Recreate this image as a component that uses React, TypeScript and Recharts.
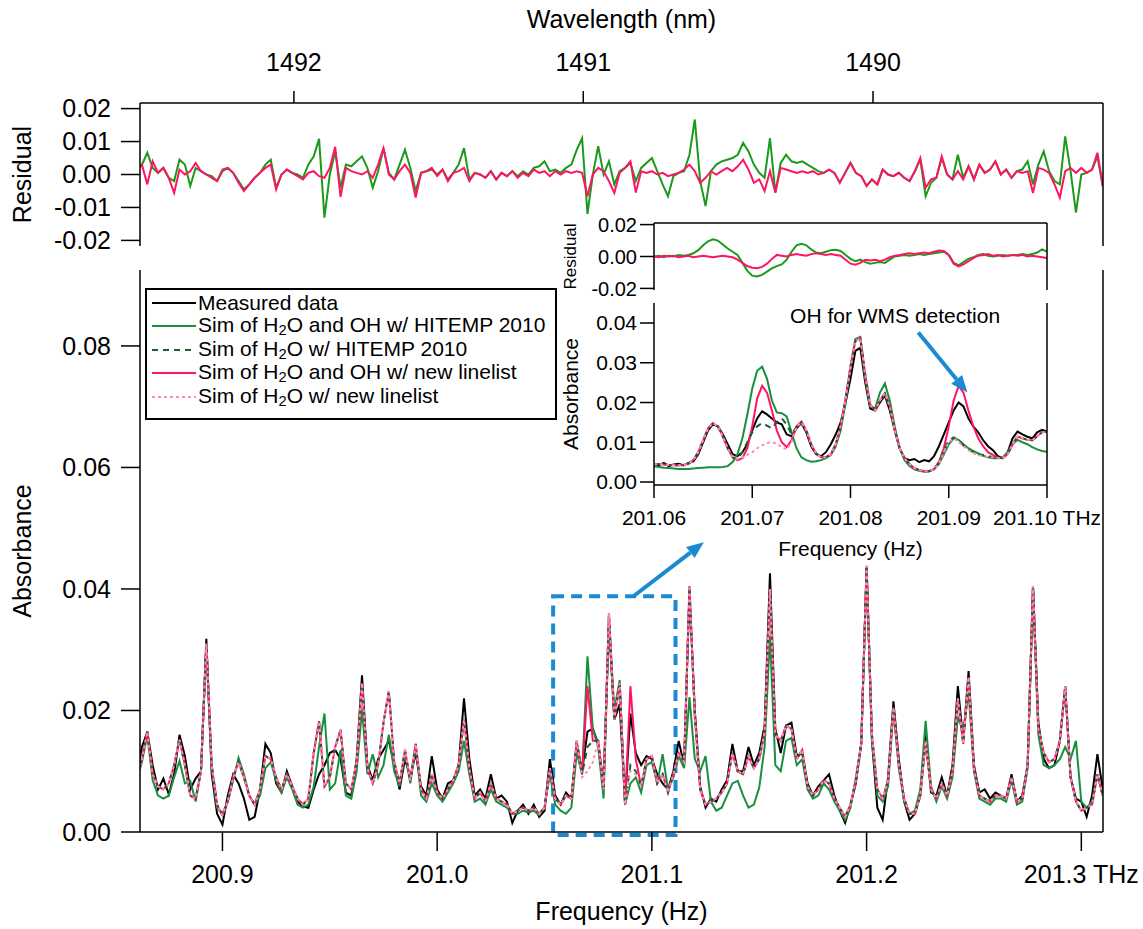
import {
  LineChart,
  Line,
  XAxis,
  YAxis,
  ReferenceArea,
  ReferenceLine,
  ReferenceDot,
} from 'recharts';

const FONT = '"Liberation Sans", Arial, Helvetica, sans-serif';

const BLACK = '#000000';
const GREEN = '#17903e';
const GREEN_RES = '#1a9a1a';
const DKGREEN = '#1d5e32';
const PINK = '#ff1464';
const LTPINK = '#ff8ab4';
const BLUE = '#1b8ad3';

const C_LIGHT = 299792.458; // nm * THz

// main spectrum grid
const F_START = 200.86;
const F_STEP = 0.0025;
const F_DOMAIN: [number, number] = [200.8616, 201.3101];
const FREQ_TICKS = [200.9, 201.0, 201.1, 201.2, 201.3];
const WL_TICKS = [1492, 1491, 1490];
const ABS_TICKS = [0, 0.02, 0.04, 0.06, 0.08];
const RES_TICKS = [-0.02, -0.01, 0, 0.01, 0.02];

// inset grid
const I_START = 201.06;
const I_STEP = 0.0005;
const I_DOMAIN: [number, number] = [201.06, 201.1];
const I_TICKS = [201.06, 201.07, 201.08, 201.09, 201.1];
const I_ABS_TICKS = [0, 0.01, 0.02, 0.03, 0.04];
const I_RES_TICKS = [-0.02, 0, 0.02];

// all values below in units of 1e-4
const MEASURED = [
  95, 140, 165, 110, 70, 88, 62, 95, 160, 125,
  70, 88, 100, 318, 95, 30, 12, 60, 95, 80,
  55, 20, 25, 70, 145, 130, 80, 65, 100, 75,
  50, 42, 40, 70, 95, 110, 130, 135, 120, 65,
  60, 120, 258, 110, 85, 120, 135, 150, 110, 70,
  120, 90, 130, 75, 60, 125, 70, 55, 80, 85,
  110, 220, 120, 60, 70, 55, 95, 55, 60, 50,
  15, 35, 45, 30, 45, 25, 35, 120, 60, 45,
  65, 55, 145, 100, 165, 170, 145, 80, 345, 185,
  210, 50, 195, 130, 110, 125, 120, 95, 80, 70,
  100, 150, 110, 395, 200, 75, 40, 55, 50, 70,
  85, 145, 100, 100, 140, 110, 130, 175, 426, 170,
  130, 175, 180, 125, 130, 80, 60, 75, 85, 95,
  60, 35, 15, 45, 80, 145, 435, 150, 40, 20,
  90, 215, 120, 50, 20, 30, 60, 160, 65, 60,
  90, 60, 110, 240, 150, 265, 110, 65, 70, 55,
  65, 60, 55, 95, 50, 60, 110, 405, 180, 120,
  105, 110, 150, 240, 90, 55, 50, 25, 60, 128,
  70,
];

const HITEMP_OH = [
  85, 115, 160, 85, 60, 55, 60, 90, 117, 80,
  84, 50, 100, 305, 105, 40, 30, 50, 85, 122,
  95, 60, 45, 60, 105, 115, 85, 65, 90, 70,
  45, 40, 45, 75, 140, 195, 70, 80, 135, 60,
  55, 100, 202, 95, 128, 90, 110, 160, 100, 75,
  130, 80, 140, 60, 50, 80, 60, 50, 65, 80,
  100, 150, 95, 50, 55, 45, 70, 50, 45, 40,
  30, 30, 35, 32, 35, 28, 40, 95, 45, 35,
  30, 40, 130, 95, 289, 170, 140, 55, 350, 200,
  250, 45, 80, 90, 65, 110, 115, 80, 128, 70,
  90, 125, 105, 222, 120, 100, 125, 50, 35, 40,
  60, 80, 84, 60, 40, 45, 73, 140, 323, 110,
  100, 150, 155, 110, 120, 70, 55, 60, 80, 70,
  50, 35, 20, 40, 90, 145, 435, 150, 60, 50,
  75, 200, 105, 50, 30, 35, 70, 183, 75, 50,
  75, 55, 90, 190, 165, 230, 100, 55, 50, 45,
  55, 55, 50, 85, 45, 50, 105, 400, 160, 110,
  105, 110, 120, 140, 120, 150, 50, 40, 50, 95,
  60,
];

const HITEMP_H2O = [
  90, 120, 165, 95, 75, 70, 80, 110, 152, 110,
  60, 55, 100, 310, 110, 45, 28, 50, 90, 115,
  90, 60, 45, 70, 125, 120, 90, 70, 95, 75,
  55, 45, 55, 130, 182, 75, 90, 140, 168, 80,
  70, 115, 245, 105, 80, 110, 180, 232, 115, 80,
  135, 85, 145, 70, 55, 95, 65, 55, 70, 85,
  110, 185, 105, 55, 65, 50, 80, 55, 50, 45,
  30, 35, 40, 35, 40, 30, 40, 105, 55, 45,
  60, 55, 150, 95, 140, 150, 150, 70, 360, 185,
  245, 45, 110, 100, 75, 120, 125, 80, 95, 65,
  95, 130, 115, 405, 190, 70, 45, 50, 55, 65,
  80, 130, 100, 95, 125, 105, 120, 165, 400, 160,
  150, 175, 170, 120, 135, 75, 60, 70, 85, 80,
  55, 40, 25, 45, 85, 145, 438, 160, 70, 55,
  85, 205, 110, 55, 30, 30, 60, 150, 70, 55,
  80, 60, 100, 220, 145, 255, 105, 60, 55, 50,
  60, 60, 55, 90, 50, 55, 110, 405, 170, 130,
  115, 120, 150, 240, 90, 50, 35, 40, 45, 95,
  60,
];

const NEW_OH = [
  90, 120, 165, 95, 75, 70, 80, 110, 152, 110,
  60, 55, 100, 310, 110, 45, 28, 50, 90, 115,
  90, 60, 45, 70, 125, 120, 90, 70, 95, 75,
  55, 45, 55, 130, 182, 75, 90, 140, 168, 80,
  70, 115, 245, 105, 80, 110, 180, 232, 115, 80,
  135, 85, 145, 70, 55, 95, 65, 55, 70, 85,
  110, 185, 105, 55, 65, 50, 80, 55, 50, 45,
  30, 35, 40, 35, 40, 30, 40, 105, 55, 45,
  60, 55, 150, 95, 240, 150, 150, 70, 360, 185,
  245, 45, 240, 120, 75, 120, 125, 80, 95, 65,
  95, 130, 115, 405, 190, 70, 45, 50, 55, 65,
  80, 130, 100, 95, 125, 105, 120, 165, 400, 160,
  150, 175, 170, 120, 135, 75, 60, 70, 85, 80,
  55, 40, 25, 45, 85, 145, 438, 160, 70, 55,
  85, 205, 110, 55, 30, 30, 60, 150, 70, 55,
  80, 60, 100, 220, 145, 255, 105, 60, 55, 50,
  60, 60, 55, 90, 50, 55, 110, 405, 170, 130,
  115, 120, 150, 240, 90, 50, 35, 40, 45, 95,
  60,
];

const NEW_H2O = [
  90, 120, 165, 95, 75, 70, 80, 110, 152, 110,
  60, 55, 100, 310, 110, 45, 28, 50, 90, 115,
  90, 60, 45, 70, 125, 120, 90, 70, 95, 75,
  55, 45, 55, 130, 182, 75, 90, 140, 168, 80,
  70, 115, 245, 105, 80, 110, 180, 232, 115, 80,
  135, 85, 145, 70, 55, 95, 65, 55, 70, 85,
  110, 185, 105, 55, 65, 50, 80, 55, 50, 45,
  30, 35, 40, 35, 40, 30, 40, 105, 55, 45,
  60, 55, 150, 90, 100, 115, 150, 70, 360, 185,
  245, 45, 100, 95, 75, 120, 125, 80, 95, 65,
  95, 130, 115, 405, 190, 70, 45, 50, 55, 65,
  80, 130, 100, 95, 125, 105, 120, 165, 400, 160,
  150, 175, 170, 120, 135, 75, 60, 70, 85, 80,
  55, 40, 25, 45, 85, 145, 438, 160, 70, 55,
  85, 205, 110, 55, 30, 30, 60, 150, 70, 55,
  80, 60, 100, 220, 145, 255, 105, 60, 55, 50,
  60, 60, 55, 90, 50, 55, 110, 405, 170, 130,
  115, 120, 150, 240, 90, 50, 35, 40, 45, 95,
  60,
];

const RES_HITEMP = [
  10, 30, 66, 20, 5, 20, -10, -20, 45, 30,
  -35, 20, 10, 0, -5, -20, 10, 20, 5, -20,
  -45, -30, -10, 5, 30, 45, -40, 0, 15, 5,
  0, -10, 30, 55, 108, -131, 0, 70, -40, 30,
  25, 40, 55, 20, -40, 10, 80, 5, -15, 30,
  75, 20, -50, 5, 10, 15, 0, 15, -15, 5,
  30, 80, -15, 5, 0, -10, 10, -15, 5, -5,
  10, -5, 10, 0, 20, 25, 40, 10, 15, 5,
  20, 30, 75, 110, -120, 0, 86, 0, 40, -30,
  10, 20, 35, -20, 20, 35, 50, 10, -30, -66,
  -5, 5, 10, 60, 167, -20, -96, 10, 30, 40,
  45, 50, 60, 96, 70, 30, 5, -10, 110, -55,
  35, 60, 40, 35, 40, 30, 20, 10, 5, 15,
  5, -25, 5, 35, 5, -5, -35, -15, -30, 15,
  0, -5, 5, -10, -20, 10, 45, -66, -25, -10,
  50, 0, -15, 60, -10, 25, -15, 30, 5, 15,
  40, 0, 15, -10, 10, 15, 40, -30, 30, 70,
  10, -20, -30, 116, 10, -116, 0, 5, 15, 55,
  -35,
];

const RES_NEW = [
  10, 30, -30, 40, 5, 20, -10, -56, 15, 0,
  10, 35, 10, 0, -10, -20, 15, 20, 5, -25,
  -50, -30, -10, 5, 20, 30, -45, 0, 15, 5,
  -5, -15, 5, 10, -5, -10, 20, 84, -68, 20,
  10, 5, 0, 10, -10, 30, 80, 0, -15, 10,
  30, 5, -70, 5, 10, 20, -5, 15, -20, 5,
  10, 20, -20, 5, 0, -10, 10, -15, 5, -5,
  10, -10, 5, -5, 15, 5, 10, -5, 10, 0,
  10, 5, 10, 5, -66, 0, 20, 10, -20, -56,
  5, 20, 40, -55, 10, 5, 10, 0, 5, -5,
  0, 5, 15, 30, 10, -25, -10, 10, 0, 10,
  20, 10, 25, 45, 15, -25, -15, -50, 10, -55,
  20, 15, 10, 5, 10, 5, 10, 0, 5, 15,
  5, -25, 5, 35, 5, -5, -35, -15, -30, 15,
  0, -5, 5, -10, -20, 10, 50, -40, -15, -10,
  55, 0, -15, 10, -15, 25, -15, 30, 5, 15,
  40, 0, 15, -10, 10, 5, 10, -56, 20, 15,
  5, -30, -70, 10, 20, 5, 20, 5, 15, 66,
  -35,
];

// inset, 201.06 - 201.10 THz
const I_MEASURED = [
  45, 42, 48, 40, 44, 46, 42, 48, 52, 70,
  100, 130, 145, 140, 120, 95, 70, 65, 75, 95,
  130, 160, 178, 170, 160, 150, 145, 120, 115, 135,
  148, 125, 90, 70, 65, 75, 95, 120, 150, 200,
  260, 330, 338, 250, 185, 180, 200, 218, 180, 130,
  85, 60, 55, 58, 50, 55, 52, 65, 90, 120,
  150, 180, 200, 190, 160, 140, 125, 105, 90, 80,
  65, 60, 75, 110, 127, 120, 114, 110, 125, 131,
  127,
];

const I_HITEMP_OH = [
  40, 38, 36, 35, 34, 33, 33, 33, 34, 35,
  36, 37, 37, 37, 38, 40, 50, 70, 110, 170,
  235, 280, 290, 260, 205, 175, 173, 165, 125, 85,
  62, 55, 51, 52, 55, 60, 68, 90, 130, 200,
  290, 360, 365, 260, 190, 185, 225, 248, 205, 140,
  85, 55, 40, 32, 28, 26, 27, 32, 45, 70,
  95, 110, 106, 95, 85, 78, 72, 66, 62, 60,
  60, 62, 75, 95, 106, 100, 95, 88, 82, 78,
  76,
];

const I_HITEMP_H2O = [
  45, 45, 44, 43, 42, 42, 43, 46, 55, 75,
  105, 135, 148, 140, 115, 85, 62, 58, 75, 100,
  125, 140, 148, 142, 135, 150, 160, 145, 120, 138,
  150, 130, 95, 72, 62, 62, 70, 95, 140, 210,
  290, 355, 362, 270, 195, 180, 205, 223, 190, 130,
  85, 60, 45, 35, 30, 27, 27, 32, 50, 80,
  105, 112, 105, 92, 82, 75, 70, 68, 65, 63,
  62, 60, 70, 95, 114, 110, 106, 105, 115, 125,
  127,
];

const I_NEW_OH = [
  45, 45, 44, 43, 42, 42, 43, 46, 55, 75,
  105, 135, 148, 140, 115, 85, 62, 55, 60, 85,
  140, 210, 242, 225, 180, 130, 100, 88, 105, 140,
  152, 130, 95, 72, 62, 62, 70, 95, 140, 210,
  290, 355, 362, 270, 195, 180, 205, 223, 190, 130,
  85, 60, 45, 35, 30, 27, 27, 32, 50, 85,
  140, 205, 242, 225, 180, 140, 110, 90, 75, 68,
  62, 60, 70, 95, 114, 110, 106, 105, 115, 125,
  127,
];

const I_NEW_H2O = [
  45, 45, 44, 43, 42, 42, 43, 46, 55, 75,
  105, 135, 148, 140, 115, 85, 62, 58, 62, 68,
  75, 85, 92, 98, 100, 96, 88, 82, 100, 138,
  150, 130, 95, 72, 62, 62, 70, 95, 140, 210,
  290, 355, 362, 270, 195, 180, 205, 223, 190, 130,
  85, 60, 45, 35, 30, 27, 27, 32, 45, 75,
  100, 110, 100, 90, 80, 72, 68, 65, 62, 62,
  60, 60, 70, 95, 114, 110, 106, 105, 115, 125,
  127,
];

const I_RES_HITEMP = [
  0, 5, -5, 5, 0, 10, 5, 10, 20, 40,
  70, 95, 108, 100, 75, 50, 30, 10, -40, -90,
  -120, -125, -115, -95, -75, -60, -50, -20, 30, 70,
  79, 70, 45, 25, 20, 30, 40, 42, 35, 10,
  -15, -30, -20, -35, -45, -40, -35, -40, -20, 0,
  5, 10, 5, 10, 15, 10, 15, 20, 25, 30,
  10, -40, -55, -35, -15, -5, 10, 15, 5, 0,
  5, 10, 5, 10, 10, 15, 10, 15, 25, 45,
  30,
];

const I_RES_NEW = [
  0, -5, 5, 0, 5, -5, 0, 5, -5, 0,
  5, 0, -5, 0, 5, 0, -5, -20, -40, -60,
  -70, -73, -65, -45, -15, 10, 5, 0, 10, 15,
  10, 5, 15, 20, 15, 10, 15, 10, 5, -20,
  -45, -52, -40, -20, -25, -20, -30, -20, -5, 5,
  10, 15, 20, 15, 20, 25, 20, 30, 37, 35,
  10, -45, -62, -50, -30, -10, 5, 10, 15, 5,
  10, 0, 5, 10, 5, 10, 0, 5, 0, -5,
  -10,
];

const U = 1e-4;

const mainData = MEASURED.map((m, i) => ({
  f: +(F_START + i * F_STEP).toFixed(4),
  meas: m * U,
  hitOh: HITEMP_OH[i] * U,
  hitH2o: HITEMP_H2O[i] * U,
  newOh: NEW_OH[i] * U,
  newH2o: NEW_H2O[i] * U,
  resHit: RES_HITEMP[i] * U,
  resNew: RES_NEW[i] * U,
}));

const insetData = I_MEASURED.map((m, i) => ({
  f: +(I_START + i * I_STEP).toFixed(4),
  meas: m * U,
  hitOh: I_HITEMP_OH[i] * U,
  hitH2o: I_HITEMP_H2O[i] * U,
  newOh: I_NEW_OH[i] * U,
  newH2o: I_NEW_H2O[i] * U,
  resHit: I_RES_HITEMP[i] * U,
  resNew: I_RES_NEW[i] * U,
}));

const axisLine = { stroke: BLACK, strokeWidth: 1.5 };
const fmt2 = (v: number) => v.toFixed(2);

function vLabel(text: string, x: number, fontSize: number) {
  return {
    content: (props: any) => {
      const vb = props.viewBox || { y: 0, height: 0 };
      const cy = vb.y + vb.height / 2;
      return (
        <text
          x={x}
          y={cy}
          transform={`rotate(-90 ${x} ${cy})`}
          textAnchor="middle"
          dominantBaseline="central"
          fontSize={fontSize}
          fill={BLACK}
        >
          {text}
        </text>
      );
    },
  };
}

function ArrowShape(props: any) {
  const { x1, y1, x2, y2 } = props;
  const ang = Math.atan2(y2 - y1, x2 - x1);
  const len = 17;
  const half = 7;
  const bx = x2 - len * Math.cos(ang);
  const by = y2 - len * Math.sin(ang);
  const px = -Math.sin(ang) * half;
  const py = Math.cos(ang) * half;
  return (
    <g>
      <line x1={x1} y1={y1} x2={bx} y2={by} stroke={BLUE} strokeWidth={4} />
      <polygon points={`${x2},${y2} ${bx + px},${by + py} ${bx - px},${by - py}`} fill={BLUE} />
    </g>
  );
}

const SERIES = [
  { key: 'meas', color: BLACK, dash: undefined, width: 2 },
  { key: 'hitOh', color: GREEN, dash: undefined, width: 2 },
  { key: 'newOh', color: PINK, dash: undefined, width: 2 },
  { key: 'hitH2o', color: DKGREEN, dash: '6 5', width: 2 },
  { key: 'newH2o', color: LTPINK, dash: '3 3', width: 2 },
] as const;

const subStyle = { fontSize: '0.7em', verticalAlign: '-0.2em', lineHeight: 1 };

const LEGEND = [
  { label: <>Measured data</>, color: BLACK, dash: undefined },
  { label: <>Sim of H<sub style={subStyle}>2</sub>O and OH w/ HITEMP 2010</>, color: GREEN, dash: undefined },
  { label: <>Sim of H<sub style={subStyle}>2</sub>O w/ HITEMP 2010</>, color: DKGREEN, dash: '6 5' },
  { label: <>Sim of H<sub style={subStyle}>2</sub>O and OH w/ new linelist</>, color: PINK, dash: undefined },
  { label: <>Sim of H<sub style={subStyle}>2</sub>O w/ new linelist</>, color: LTPINK, dash: '3 3' },
];

function ChartLegend() {
  return (
    <div
      style={{
        position: 'absolute',
        left: 145,
        top: 288,
        width: 408,
        height: 128,
        border: '2px solid #000',
        background: '#fff',
      }}
    >
      {LEGEND.map((item, i) => (
        <div
          key={i}
          style={{
            position: 'absolute',
            left: 0,
            top: 1 + i * 23.5,
            height: 23.5,
            display: 'flex',
            alignItems: 'center',
            whiteSpace: 'nowrap',
          }}
        >
          <svg width={51} height={6} style={{ display: 'block' }}>
            <line
              x1={5}
              x2={49}
              y1={3}
              y2={3}
              stroke={item.color}
              strokeWidth={2}
              strokeDasharray={item.dash}
            />
          </svg>
          <span style={{ fontSize: 21, lineHeight: '21px' }}>{item.label}</span>
        </div>
      ))}
    </div>
  );
}

function ResidualPanel() {
  return (
    <div style={{ position: 'absolute', left: 0, top: 0 }}>
      <LineChart width={1143} height={262} data={mainData} margin={{ top: 3, right: 0, bottom: 16, left: 0 }}>
        <XAxis
          dataKey="f"
          type="number"
          orientation="top"
          domain={F_DOMAIN}
          allowDataOverflow
          ticks={WL_TICKS.map((nm) => C_LIGHT / nm)}
          tickFormatter={(v: number) => String(Math.round(C_LIGHT / v))}
          interval={0}
          height={100}
          tickSize={12}
          tickMargin={20}
          axisLine={axisLine}
          tickLine={axisLine}
          tick={{ fontSize: 25, fill: BLACK }}
          label={{ value: 'Wavelength (nm)', position: 'insideTop', offset: 7, fontSize: 25, fill: BLACK }}
        />
        <YAxis
          yAxisId="l"
          width={140}
          domain={[-0.0217, 0.0217]}
          allowDataOverflow
          ticks={RES_TICKS}
          tickFormatter={fmt2}
          interval={0}
          tickSize={19}
          tickMargin={10}
          axisLine={axisLine}
          tickLine={axisLine}
          tick={{ fontSize: 25, fill: BLACK }}
          label={vLabel('Residual', 22, 25)}
        />
        <YAxis
          yAxisId="r"
          orientation="right"
          width={40}
          domain={[-0.0217, 0.0217]}
          allowDataOverflow
          ticks={RES_TICKS}
          interval={0}
          tick={false}
          tickSize={18}
          axisLine={axisLine}
          tickLine={axisLine}
        />
        <Line yAxisId="l" dataKey="resHit" stroke={GREEN_RES} strokeWidth={2} dot={false} activeDot={false} isAnimationActive={false} />
        <Line yAxisId="l" dataKey="resNew" stroke={PINK} strokeWidth={2} dot={false} activeDot={false} isAnimationActive={false} />
      </LineChart>
    </div>
  );
}

function AbsorbancePanel() {
  return (
    <div style={{ position: 'absolute', left: 0, top: 0 }}>
      <LineChart width={1143} height={929} data={mainData} margin={{ top: 270, right: 0, bottom: 0, left: 0 }}>
        <XAxis
          dataKey="f"
          type="number"
          domain={F_DOMAIN}
          allowDataOverflow
          ticks={FREQ_TICKS}
          tickFormatter={(v: number) => (v === 201.3 ? '201.3 THz' : v.toFixed(1))}
          interval={0}
          height={97}
          tickSize={19}
          tickMargin={14}
          axisLine={axisLine}
          tickLine={axisLine}
          tick={{ fontSize: 25, fill: BLACK }}
          label={{ value: 'Frequency (Hz)', position: 'insideBottom', offset: 9, fontSize: 25, fill: BLACK }}
        />
        <YAxis
          yAxisId="l"
          width={140}
          domain={[0, 0.0925]}
          allowDataOverflow
          ticks={ABS_TICKS}
          tickFormatter={fmt2}
          interval={0}
          tickSize={19}
          tickMargin={10}
          axisLine={axisLine}
          tickLine={axisLine}
          tick={{ fontSize: 25, fill: BLACK }}
          label={vLabel('Absorbance', 22, 25)}
        />
        <YAxis
          yAxisId="r"
          orientation="right"
          width={40}
          domain={[0, 0.0925]}
          allowDataOverflow
          ticks={ABS_TICKS}
          interval={0}
          tick={false}
          tickSize={18}
          axisLine={axisLine}
          tickLine={axisLine}
        />
        {SERIES.map((s) => (
          <Line
            key={s.key}
            yAxisId="l"
            dataKey={s.key}
            stroke={s.color}
            strokeWidth={s.width}
            strokeDasharray={s.dash}
            dot={false}
            activeDot={false}
            isAnimationActive={false}
          />
        ))}
        <ReferenceArea
          yAxisId="l"
          x1={201.054}
          x2={201.111}
          y1={-0.0005}
          y2={0.0388}
          ifOverflow="visible"
          fill="none"
          stroke={BLUE}
          strokeWidth={4}
          strokeDasharray="11 7"
        />
        <ReferenceLine
          yAxisId="l"
          segment={[
            { x: 201.0914, y: 0.0388 },
            { x: 201.1242, y: 0.0477 },
          ]}
          ifOverflow="visible"
          shape={ArrowShape}
        />
      </LineChart>
    </div>
  );
}

function InsetResidual() {
  return (
    <div style={{ position: 'absolute', left: 540, top: 200 }}>
      <LineChart width={560} height={100} data={insetData} margin={{ top: 0, right: 33, bottom: 10, left: 0 }}>
        <XAxis
          dataKey="f"
          type="number"
          orientation="top"
          domain={I_DOMAIN}
          allowDataOverflow
          ticks={I_TICKS}
          interval={0}
          height={23}
          tick={false}
          tickSize={13}
          axisLine={axisLine}
          tickLine={axisLine}
        />
        <YAxis
          yAxisId="l"
          width={114}
          domain={[-0.021, 0.021]}
          allowDataOverflow
          ticks={I_RES_TICKS}
          tickFormatter={fmt2}
          interval={0}
          tickSize={14}
          tickMargin={3}
          axisLine={axisLine}
          tickLine={axisLine}
          tick={{ fontSize: 20, fill: BLACK }}
          label={vLabel('Residual', 30, 17)}
        />
        <YAxis
          yAxisId="r"
          orientation="right"
          width={20}
          domain={[-0.021, 0.021]}
          allowDataOverflow
          ticks={I_RES_TICKS}
          interval={0}
          tick={false}
          tickSize={14}
          axisLine={axisLine}
          tickLine={axisLine}
        />
        <Line yAxisId="l" dataKey="resHit" stroke={GREEN_RES} strokeWidth={2} dot={false} activeDot={false} isAnimationActive={false} />
        <Line yAxisId="l" dataKey="resNew" stroke={PINK} strokeWidth={2} dot={false} activeDot={false} isAnimationActive={false} />
      </LineChart>
    </div>
  );
}

function InsetAbsorbance() {
  return (
    <div style={{ position: 'absolute', left: 540, top: 290 }}>
      <LineChart width={560} height={275} data={insetData} margin={{ top: 13, right: 33, bottom: 0, left: 0 }}>
        <XAxis
          dataKey="f"
          type="number"
          domain={I_DOMAIN}
          allowDataOverflow
          ticks={I_TICKS}
          tickFormatter={(v: number) => (Math.abs(v - 201.1) < 1e-9 ? '201.10 THz' : v.toFixed(2))}
          interval={0}
          height={80}
          tickSize={13}
          tickMargin={12}
          axisLine={axisLine}
          tickLine={axisLine}
          tick={{ fontSize: 21, fill: BLACK }}
          label={{ value: 'Frequency (Hz)', position: 'insideBottom', offset: 9, fontSize: 21, fill: BLACK }}
        />
        <YAxis
          yAxisId="l"
          width={114}
          domain={[-0.00075, 0.04503]}
          allowDataOverflow
          ticks={I_ABS_TICKS}
          tickFormatter={fmt2}
          interval={0}
          tickSize={14}
          tickMargin={3}
          axisLine={axisLine}
          tickLine={axisLine}
          tick={{ fontSize: 21, fill: BLACK }}
          label={vLabel('Absorbance', 30, 21)}
        />
        <YAxis
          yAxisId="r"
          orientation="right"
          width={20}
          domain={[-0.00075, 0.04503]}
          allowDataOverflow
          ticks={I_ABS_TICKS}
          interval={0}
          tick={false}
          tickSize={14}
          axisLine={axisLine}
          tickLine={axisLine}
        />
        {SERIES.map((s) => (
          <Line
            key={s.key}
            yAxisId="l"
            dataKey={s.key}
            stroke={s.color}
            strokeWidth={s.width}
            strokeDasharray={s.dash}
            dot={false}
            activeDot={false}
            isAnimationActive={false}
          />
        ))}
        <ReferenceLine
          yAxisId="l"
          segment={[
            { x: 201.0869, y: 0.0376 },
            { x: 201.0919, y: 0.0225 },
          ]}
          ifOverflow="visible"
          shape={ArrowShape}
        />
        <ReferenceDot
          yAxisId="l"
          x={201.08454}
          y={0.042}
          r={0}
          fill="none"
          stroke="none"
          ifOverflow="visible"
          label={{ value: 'OH for WMS detection', position: 'center', fontSize: 21, fill: BLACK }}
        />
      </LineChart>
    </div>
  );
}

export default function App() {
  return (
    <div
      style={{
        position: 'absolute',
        left: 0,
        top: 0,
        width: 1143,
        height: 929,
        background: '#fff',
        fontFamily: FONT,
        color: BLACK,
      }}
    >
      <ResidualPanel />
      <AbsorbancePanel />
      <InsetResidual />
      <InsetAbsorbance />
      <ChartLegend />
    </div>
  );
}
